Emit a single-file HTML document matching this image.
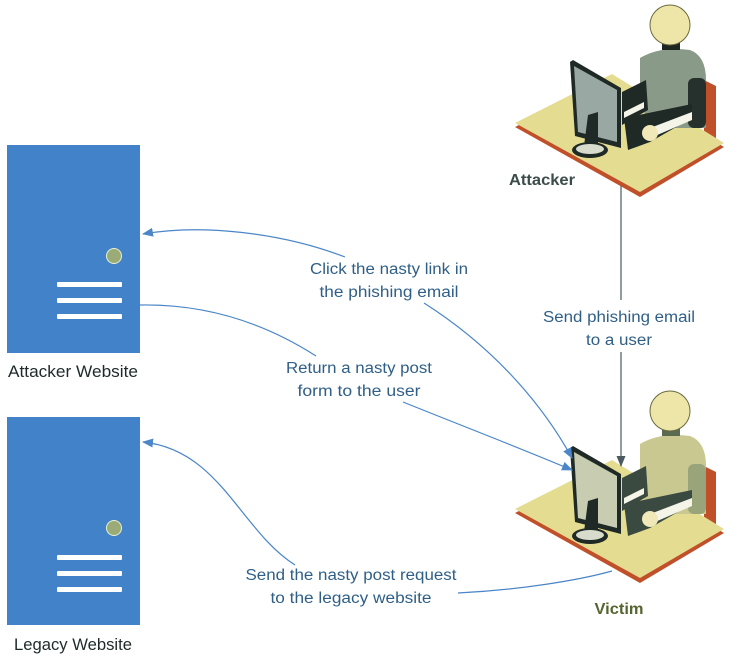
<!DOCTYPE html>
<html><head><meta charset="utf-8"><style>
html,body{margin:0;padding:0;background:#fff;}
svg{display:block;}
text{font-family:"Liberation Sans",sans-serif;}
</style></head><body>
<svg width="732" height="657" viewBox="0 0 732 657" xmlns="http://www.w3.org/2000/svg">
<defs>
<marker id="ab" markerWidth="11" markerHeight="9" refX="10" refY="4.5" orient="auto" markerUnits="userSpaceOnUse">
<path d="M0,0 L11,4.5 L0,9 Z" fill="#4a86c8"/></marker>
<marker id="ag" markerWidth="11" markerHeight="9" refX="10" refY="4.5" orient="auto" markerUnits="userSpaceOnUse">
<path d="M0,0 L11,4.5 L0,9 Z" fill="#4a5a60"/></marker>
</defs>

<!-- Attacker figure -->
<g>
  <polygon points="704,80 716,86 716,138 704,143" fill="#c0502a"/>
  <polygon points="515,127 612,78 724,147 640,197" fill="#c0502a"/>
  <polygon points="515,123 612,74 724,143 640,192" fill="#e4dc90"/>
  <path d="M640,58 Q660,46 690,50 Q706,56 706,80 L706,128 L650,128 L640,100 Z" fill="#8a9a88"/>
  <rect x="688" y="78" width="18" height="50" rx="6" fill="#26302c"/>
  <rect x="662" y="42" width="18" height="8" fill="#1e2622"/>
  <circle cx="670" cy="25" r="20" fill="#eee6a8" stroke="#6a6a40" stroke-width="1"/>
  <polygon points="622,92 646,80 648,110 622,125" fill="#1f2a26"/>
  <polygon points="624,118 692,104 692,118 650,142 628,150" fill="#1f2a26"/>
  <polygon points="650,128 692,112 692,120 655,136" fill="#f4f4e8"/>
  <polygon points="624,112 644,102 644,108 624,118" fill="#f4f4e8"/>
  <circle cx="650" cy="133" r="8" fill="#f0e8b8"/>
  <polygon points="570,62 573,60 621,88 621,148 575,136" fill="#1f2a26"/>
  <polygon points="574,66 617,90 617,142 578,132" fill="#9aa8a4"/>
  <polygon points="584,146 588,115 598,112 598,156" fill="#1f2a26"/>
  <ellipse cx="590" cy="150" rx="18" ry="8" fill="#1f2a26"/>
  <ellipse cx="590" cy="149" rx="14" ry="5" fill="#d8dccc"/>
</g>
<!-- Victim figure -->
<g transform="translate(0,386)">
  <polygon points="704,80 716,86 716,138 704,143" fill="#c0502a"/>
  <polygon points="515,127 612,78 724,147 640,197" fill="#c0502a"/>
  <polygon points="515,123 612,74 724,143 640,192" fill="#e4dc90"/>
  <path d="M640,58 Q660,46 690,50 Q706,56 706,80 L706,128 L650,128 L640,100 Z" fill="#c8c890"/>
  <rect x="688" y="78" width="18" height="50" rx="6" fill="#9aa47a"/>
  <rect x="662" y="42" width="18" height="8" fill="#5a6a50"/>
  <circle cx="670" cy="25" r="20" fill="#eee6a8" stroke="#6a6a40" stroke-width="1"/>
  <polygon points="622,92 646,80 648,110 622,125" fill="#3a4a40"/>
  <polygon points="624,118 692,104 692,118 650,142 628,150" fill="#3a4a40"/>
  <polygon points="650,128 692,112 692,120 655,136" fill="#f4f4e8"/>
  <polygon points="624,112 644,102 644,108 624,118" fill="#f4f4e8"/>
  <circle cx="650" cy="133" r="8" fill="#f0e8b8"/>
  <polygon points="570,62 573,60 621,88 621,148 575,136" fill="#1f2a26"/>
  <polygon points="574,66 617,90 617,142 578,132" fill="#c8ccb0"/>
  <polygon points="584,146 588,115 598,112 598,156" fill="#1f2a26"/>
  <ellipse cx="590" cy="150" rx="18" ry="8" fill="#1f2a26"/>
  <ellipse cx="590" cy="149" rx="14" ry="5" fill="#d8dccc"/>
</g>

<!-- Servers -->
<rect x="7" y="145" width="133" height="208" fill="#4282c8"/>
<circle cx="114" cy="256" r="7.5" fill="#9aab78" stroke="#e8f0d0" stroke-width="1"/>
<rect x="57" y="282" width="65" height="5" rx="1" fill="#fff"/>
<rect x="57" y="298" width="65" height="5" rx="1" fill="#fff"/>
<rect x="57" y="314" width="65" height="5" rx="1" fill="#fff"/>
<rect x="7" y="417" width="133" height="208" fill="#4282c8"/>
<circle cx="114" cy="528" r="7.5" fill="#9aab78" stroke="#e8f0d0" stroke-width="1"/>
<rect x="57" y="555" width="65" height="5" rx="1" fill="#fff"/>
<rect x="57" y="571" width="65" height="5" rx="1" fill="#fff"/>
<rect x="57" y="587" width="65" height="5" rx="1" fill="#fff"/>

<text x="73" y="377" font-size="16.5" fill="#1e2a2a" text-anchor="middle" textLength="130" lengthAdjust="spacingAndGlyphs">Attacker Website</text>
<text x="73" y="650" font-size="16.5" fill="#1e2a2a" text-anchor="middle" textLength="118" lengthAdjust="spacingAndGlyphs">Legacy Website</text>
<text x="542" y="185" font-size="16" font-weight="bold" fill="#3c4b4b" text-anchor="middle" textLength="66" lengthAdjust="spacingAndGlyphs">Attacker</text>
<text x="619" y="614" font-size="16" font-weight="bold" fill="#55652f" text-anchor="middle" textLength="49" lengthAdjust="spacingAndGlyphs">Victim</text>

<!-- connectors -->
<g fill="none" stroke="#4a86c8" stroke-width="1.2">
  <path d="M345,257 C280,232 200,224 143,234" marker-end="url(#ab)"/>
  <path d="M424,303 C490,345 540,400 572,458" marker-end="url(#ab)"/>
  <path d="M140,305 C200,304 260,320 316,356"/>
  <path d="M403,402 C460,425 520,448 572,470" marker-end="url(#ab)"/>
  <path d="M295,565 C240,530 220,450 143,442" marker-end="url(#ab)"/>
  <path d="M458,593 C520,590 580,580 612,571"/>
</g>
<line x1="621" y1="186" x2="621" y2="300" stroke="#4a5a60" stroke-width="1.2"/>
<line x1="621" y1="352" x2="621" y2="466" stroke="#4a5a60" stroke-width="1.2" marker-end="url(#ag)"/>

<g font-size="15.5" fill="#2f5f86" text-anchor="middle" lengthAdjust="spacingAndGlyphs">
  <text x="389" y="274" textLength="158" lengthAdjust="spacingAndGlyphs">Click the nasty link in</text>
  <text x="389" y="297" textLength="139" lengthAdjust="spacingAndGlyphs">the phishing email</text>
  <text x="359" y="373" textLength="146" lengthAdjust="spacingAndGlyphs">Return a nasty post</text>
  <text x="359" y="396" textLength="123" lengthAdjust="spacingAndGlyphs">form to the user</text>
  <text x="351" y="580" textLength="211" lengthAdjust="spacingAndGlyphs">Send the nasty post request</text>
  <text x="351" y="603" textLength="161" lengthAdjust="spacingAndGlyphs">to the legacy website</text>
  <text x="619" y="322" textLength="152" lengthAdjust="spacingAndGlyphs">Send phishing email</text>
  <text x="619" y="345" textLength="66" lengthAdjust="spacingAndGlyphs">to a user</text>
</g>
</svg>
</body></html>
